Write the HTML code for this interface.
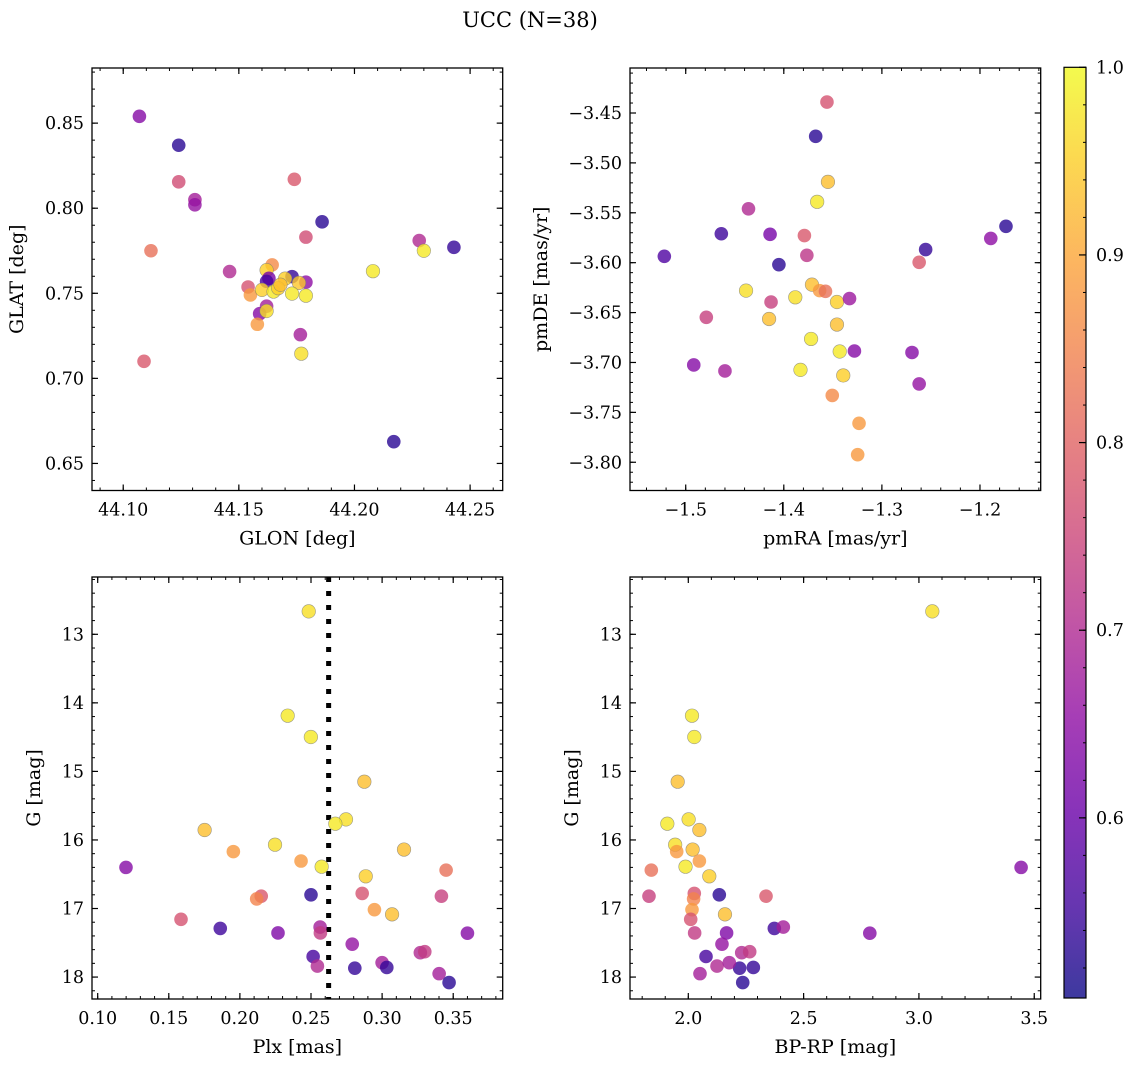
<!DOCTYPE html>
<html><head><meta charset="utf-8">
<style>
html,body{margin:0;padding:0;background:#fff;}
svg{display:block;font-family:"DejaVu Serif","Liberation Serif",serif;}
</style></head>
<body>
<svg id="fig" width="1136" height="1067" viewBox="0 0 1136 1067" xmlns="http://www.w3.org/2000/svg">
<text x="530" y="27" text-anchor="middle" font-size="21">UCC (N=38)</text>
<defs>
<linearGradient id="plasma" x1="0" y1="1" x2="0" y2="0">
<stop offset="0" stop-color="#0d0887"/><stop offset="0.1" stop-color="#41049d"/><stop offset="0.2" stop-color="#6a00a8"/><stop offset="0.3" stop-color="#8f0da4"/><stop offset="0.4" stop-color="#b12a90"/><stop offset="0.5" stop-color="#cc4778"/><stop offset="0.6" stop-color="#e16462"/><stop offset="0.7" stop-color="#f2844b"/><stop offset="0.8" stop-color="#fca636"/><stop offset="0.9" stop-color="#fcce25"/><stop offset="1" stop-color="#f0f921"/>
</linearGradient>
</defs>
</svg>
<script>
// ---- Panel 1: GLON / GLAT ----
const glon = [44.107,44.124,44.124,44.131,44.131,44.112,44.174,44.186,44.179,44.228,44.230,44.243,44.208,44.146,44.109,44.217,44.1766,44.177,44.1644,44.162,44.173,44.163,44.162,44.170,44.179,44.176,44.154,44.155,44.160,44.165,44.167,44.173,44.179,44.162,44.159,44.162,44.158,44.168];
const glat = [0.854,0.837,0.8155,0.805,0.802,0.775,0.817,0.792,0.783,0.781,0.775,0.777,0.763,0.7628,0.710,0.6628,0.7257,0.7145,0.7667,0.7636,0.7598,0.7588,0.757,0.7586,0.7565,0.7561,0.7537,0.749,0.752,0.751,0.753,0.7498,0.7486,0.7424,0.738,0.7396,0.7318,0.755];
const probTL = [0.64,0.53,0.76,0.68,0.66,0.82,0.78,0.53,0.76,0.70,0.98,0.54,0.98,0.70,0.78,0.53,0.68,0.97,0.86,0.95,0.54,0.62,0.56,0.95,0.65,0.94,0.77,0.88,0.95,0.98,0.95,0.98,0.98,0.68,0.64,0.97,0.88,0.93];
// ---- Panel 2: pmRA / pmDE ----
const pmra = [-1.356,-1.3675,-1.355,-1.366,-1.436,-1.4637,-1.414,-1.379,-1.5218,-1.3765,-1.405,-1.1735,-1.189,-1.2554,-1.262,-1.3713,-1.3635,-1.3575,-1.4385,-1.3883,-1.3458,-1.333,-1.413,-1.479,-1.415,-1.3458,-1.3722,-1.343,-1.328,-1.2693,-1.4918,-1.460,-1.383,-1.3394,-1.262,-1.3506,-1.3233,-1.3247];
const pmde = [-3.439,-3.4734,-3.519,-3.539,-3.546,-3.571,-3.5716,-3.5728,-3.5936,-3.5926,-3.602,-3.5635,-3.5757,-3.5868,-3.5996,-3.622,-3.628,-3.6287,-3.628,-3.6347,-3.6394,-3.636,-3.6394,-3.6547,-3.6564,-3.662,-3.6764,-3.689,-3.6885,-3.69,-3.7025,-3.7085,-3.7074,-3.713,-3.7215,-3.733,-3.761,-3.7924];
const probTR = [0.77,0.53,0.93,0.98,0.70,0.55,0.62,0.78,0.57,0.72,0.53,0.53,0.65,0.54,0.78,0.93,0.88,0.82,0.97,0.97,0.95,0.67,0.74,0.74,0.93,0.93,0.98,0.98,0.64,0.64,0.64,0.68,0.98,0.95,0.66,0.86,0.88,0.88];
// ---- Panels 3 & 4: G vs Plx and BP-RP ----
const gmag = [12.665,14.187,14.498,15.15,15.70,15.763,15.855,16.069,16.14,16.17,16.307,16.39,16.40,16.44,16.53,16.80,16.78,16.82,16.82,16.86,17.017,17.085,17.158,17.29,17.357,17.27,17.357,17.36,17.52,17.645,17.63,17.70,17.84,17.87,17.79,17.86,17.95,18.08];
const plx = [0.2484,0.2336,0.2499,0.2875,0.2746,0.2671,0.1752,0.2247,0.3154,0.1954,0.243,0.2575,0.1199,0.345,0.2885,0.25,0.286,0.3417,0.215,0.2118,0.2946,0.307,0.1586,0.1862,0.2268,0.2564,0.2566,0.36,0.279,0.3269,0.33,0.2515,0.2545,0.2808,0.30,0.3033,0.3401,0.3471];
const bprp = [3.058,2.016,2.026,1.954,2.0014,1.909,2.048,1.943,2.0188,1.9497,2.048,1.9879,3.443,1.8396,2.091,2.1344,2.026,1.8295,2.337,2.023,2.016,2.159,2.0104,2.373,2.166,2.412,2.0275,2.787,2.146,2.2316,2.2662,2.0768,2.1245,2.2225,2.1777,2.282,2.0507,2.236];
const probB = [0.97,0.98,0.98,0.93,0.97,0.98,0.93,0.97,0.93,0.88,0.88,0.98,0.64,0.82,0.95,0.53,0.77,0.74,0.78,0.85,0.88,0.93,0.77,0.55,0.63,0.68,0.73,0.64,0.66,0.70,0.73,0.56,0.70,0.54,0.68,0.54,0.68,0.53];
const plxLine = 0.2624;
const cbTicks = [0.6,0.7,0.8,0.9,1.0];
const VMIN = 0.504, VMAX = 1.0;

const NS = "http://www.w3.org/2000/svg";
const fig = document.getElementById('fig');
function mk(tag, attrs, parent){const e=document.createElementNS(NS,tag);for(const k in attrs)e.setAttribute(k,attrs[k]);(parent||fig).appendChild(e);return e;}

const stops=[[13,8,135],[65,4,157],[106,0,168],[143,13,164],[177,42,144],[204,71,120],[225,100,98],[242,132,75],[252,166,54],[252,206,37],[240,249,33]];
function plasma(v){let t=(v-VMIN)/(VMAX-VMIN);t=Math.max(0,Math.min(1,t))*10;const i=Math.min(9,Math.floor(t)),f=t-i;const a=stops[i],b=stops[i+1];return 'rgb('+a.map((c,k)=>Math.round(c+(b[k]-c)*f)).join(',')+')';}

const TFS=17.5, LFS=19;
function panel(cfg){
  const g=mk('g',{});
  
  
  const sx=v=>cfg.x0+(v-cfg.xmin)/(cfg.xmax-cfg.xmin)*(cfg.x1-cfg.x0);
  const sy=v=>cfg.inv? cfg.y0+(v-cfg.ymin)/(cfg.ymax-cfg.ymin)*(cfg.y1-cfg.y0) : cfg.y1-(v-cfg.ymin)/(cfg.ymax-cfg.ymin)*(cfg.y1-cfg.y0);
  const eps=1e-9;
  function ticks(min,max,step){const out=[];let s=Math.ceil(Math.min(min,max)/step-eps)*step;for(;s<=Math.max(min,max)+eps;s+=step)out.push(+s.toFixed(6));return out;}
  ticks(cfg.xmin,cfg.xmax,cfg.xminor).forEach(v=>{const X=sx(v);mk('line',{x1:X,x2:X,y1:cfg.y1,y2:cfg.y1-3,stroke:'#000','stroke-width':1},g);mk('line',{x1:X,x2:X,y1:cfg.y0,y2:cfg.y0+3,stroke:'#000','stroke-width':1},g);});
  ticks(cfg.ymin,cfg.ymax,cfg.yminor).forEach(v=>{const Y=sy(v);mk('line',{x1:cfg.x0,x2:cfg.x0+3,y1:Y,y2:Y,stroke:'#000','stroke-width':1},g);mk('line',{x1:cfg.x1,x2:cfg.x1-3,y1:Y,y2:Y,stroke:'#000','stroke-width':1},g);});
  cfg.xt.forEach(v=>{const X=sx(v);mk('line',{x1:X,x2:X,y1:cfg.y1,y2:cfg.y1-6,stroke:'#000','stroke-width':1.2},g);mk('line',{x1:X,x2:X,y1:cfg.y0,y2:cfg.y0+6,stroke:'#000','stroke-width':1.2},g);
    const t=mk('text',{x:X,y:cfg.y1+25,'text-anchor':'middle','font-size':TFS},g);t.textContent=v.toFixed(cfg.xdec).replace('-','\u2212');
    
    });
  cfg.yt.forEach(v=>{const Y=sy(v);mk('line',{x1:cfg.x0,x2:cfg.x0+6,y1:Y,y2:Y,stroke:'#000','stroke-width':1.2},g);mk('line',{x1:cfg.x1,x2:cfg.x1-6,y1:Y,y2:Y,stroke:'#000','stroke-width':1.2},g);
    const t=mk('text',{x:cfg.x0-8,y:Y+6,'text-anchor':'end','font-size':TFS},g);t.textContent=(cfg.ydec===0?String(v):v.toFixed(cfg.ydec)).replace('-','\u2212');
    
    });
  if(cfg.vline!==undefined){const X=sx(cfg.vline);const l=mk('line',{x1:X,x2:X,y1:cfg.y0,y2:cfg.y1,stroke:'#000','stroke-width':5,'stroke-dasharray':'5,9'},g);
    
    }
  cfg.xs.forEach((xv,i)=>{const c=mk('circle',{cx:sx(xv),cy:sy(cfg.ys[i]),r:6.8,fill:plasma(cfg.c[i]),'fill-opacity':0.8,stroke:'#777','stroke-opacity':cfg.c[i]>0.9?0.7:0,'stroke-width':0.6},g);
    
    });
  const fr=mk('rect',{x:cfg.x0,y:cfg.y0,width:cfg.x1-cfg.x0,height:cfg.y1-cfg.y0,fill:'none',stroke:'#000','stroke-width':1.3},g);
  
  
  const xl=mk('text',{x:(cfg.x0+cfg.x1)/2,y:cfg.y1+54,'text-anchor':'middle','font-size':LFS},g);xl.textContent=cfg.xlabel;
  
  
  const yc=(cfg.y0+cfg.y1)/2;const yl=mk('text',{x:cfg.ylx,y:yc,'text-anchor':'middle','font-size':LFS,transform:'rotate(-90 '+cfg.ylx+' '+yc+')'},g);yl.textContent=cfg.ylabel;
  
  
}

panel({name:'glon-glat-panel',x0:92,x1:502.7,y0:68,y1:490.5,xmin:44.0865,xmax:44.2641,ymin:0.6341,ymax:0.8824,xt:[44.10,44.15,44.20,44.25],xdec:2,xminor:0.01,yt:[0.65,0.70,0.75,0.80,0.85],ydec:2,yminor:0.01,xs:glon,ys:glat,c:probTL,xlabel:'GLON [deg]',ylabel:'GLAT [deg]',ylx:23});
panel({name:'pm-panel',x0:630,x1:1040.7,y0:68,y1:490.5,xmin:-1.5568,xmax:-1.1381,ymin:-3.8283,ymax:-3.4049,xt:[-1.5,-1.4,-1.3,-1.2],xdec:1,xminor:0.02,yt:[-3.80,-3.75,-3.70,-3.65,-3.60,-3.55,-3.50,-3.45],ydec:2,yminor:0.01,xs:pmra,ys:pmde,c:probTR,xlabel:'pmRA [mas/yr]',ylabel:'pmDE [mas/yr]',ylx:547});
panel({name:'plx-g-panel',x0:92,x1:502.7,y0:577,y1:999,xmin:0.096,xmax:0.3848,ymin:12.164,ymax:18.32,inv:true,xt:[0.10,0.15,0.20,0.25,0.30,0.35],xdec:2,xminor:0.01,yt:[13,14,15,16,17,18],ydec:0,yminor:0.2,xs:plx,ys:gmag,c:probB,xlabel:'Plx [mas]',ylabel:'G [mag]',ylx:40,vline:plxLine});
panel({name:'cmd-panel',x0:630,x1:1040.7,y0:577,y1:999,xmin:1.7472,xmax:3.528,ymin:12.164,ymax:18.32,inv:true,xt:[2.0,2.5,3.0,3.5],xdec:1,xminor:0.1,yt:[13,14,15,16,17,18],ydec:0,yminor:0.2,xs:bprp,ys:gmag,c:probB,xlabel:'BP-RP [mag]',ylabel:'G [mag]',ylx:578});

// colorbar
const cb=mk('g',{});


const CY0=67.3, CY1=998, CX0=1064, CX1=1086;
const cy=v=>CY1-(v-VMIN)/(VMAX-VMIN)*(CY1-CY0);
mk('rect',{x:CX0,y:CY0,width:CX1-CX0,height:CY1-CY0,fill:'url(#plasma)','fill-opacity':0.8},cb);
for(let v=0.52;v<1.0001;v+=0.02){const Y=cy(v);mk('line',{x1:CX1,x2:CX1-3,y1:Y,y2:Y,stroke:'#000','stroke-width':1},cb);}
cbTicks.forEach(v=>{const Y=cy(v);mk('line',{x1:CX1,x2:CX1-7,y1:Y,y2:Y,stroke:'#000','stroke-width':1.2},cb);
  const t=mk('text',{x:CX1+10,y:Y+6,'font-size':TFS},cb);t.textContent=v.toFixed(1);
  
  });
mk('rect',{x:CX0,y:CY0,width:CX1-CX0,height:CY1-CY0,fill:'none',stroke:'#000','stroke-width':1.2},cb);
</script>
</body></html>
